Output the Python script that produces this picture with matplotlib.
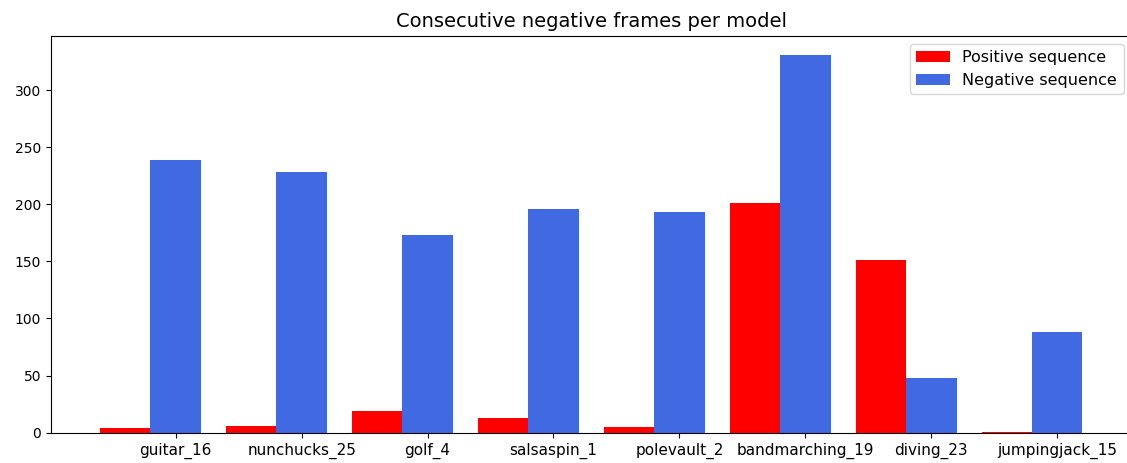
import matplotlib
matplotlib.use("Agg")
import matplotlib.pyplot as plt
import numpy as np

models = ["guitar_16", "nunchucks_25", "golf_4", "salsaspin_1",
          "polevault_2", "bandmarching_19", "diving_23", "jumpingjack_15"]
positive_seq = [4, 6, 19, 13, 5, 201, 151, 1]
negative_seq = [239, 228, 173, 196, 193, 331, 48, 88]

fig = plt.figure(figsize=(11.27, 4.63), dpi=100)
# the plot area runs slightly past the right edge of the canvas
ax = fig.add_axes([0.04525, 0.0654, 0.9588, 0.8575])

x = np.arange(len(models))
width = 0.4
ax.bar(x - width, positive_seq, width, color="red", label="Positive sequence")
ax.bar(x, negative_seq, width, color="royalblue", label="Negative sequence")

ax.set_xticks(x)
ax.set_xticklabels(models, fontsize=11)
ax.tick_params(axis="y", labelsize=10)
ax.set_title("Consecutive negative frames per model", fontsize=14)
ax.legend(loc="upper right", fontsize=11.5, handlelength=2.09, handleheight=0.73)

fig.savefig("out.png", dpi=100)
